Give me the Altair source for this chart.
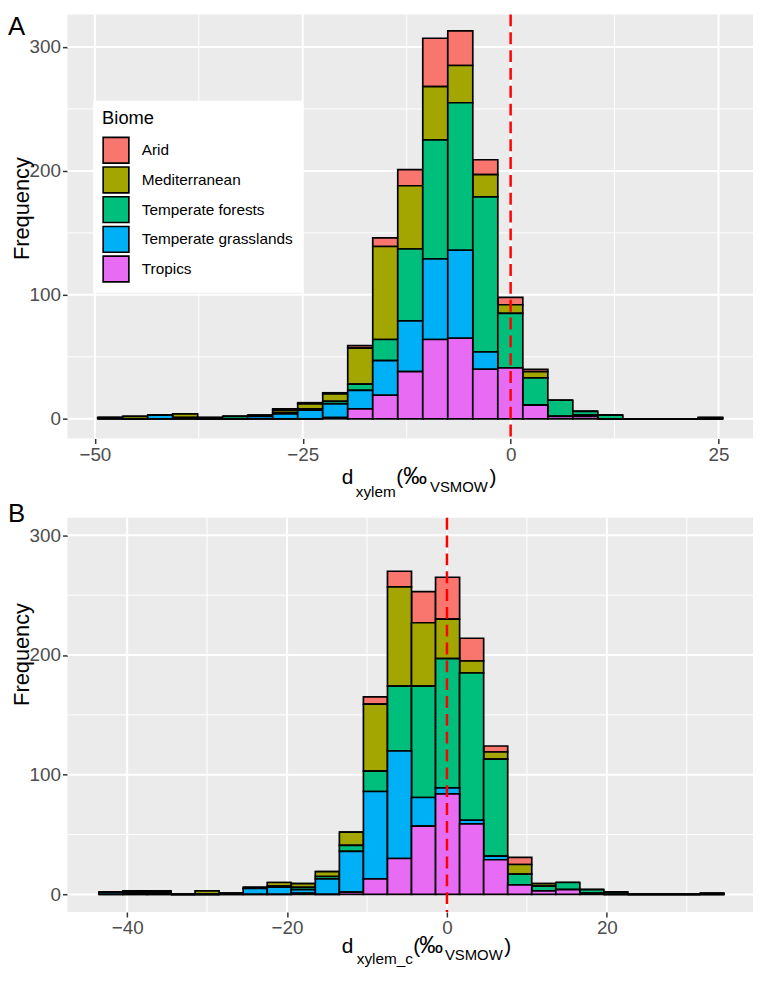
import altair as alt
import pandas as pd

biomes = ["Arid", "Mediterranean", "Temperate forests", "Temperate grasslands", "Tropics"]
colors = ["#F8766D", "#A3A500", "#00BF7D", "#00B0F6", "#E76BF3"]

# Panel A: d_xylem histogram (25 bins)
a_start = -49.73
a_width = 3.008
a_arid = [0, 0, 0, 0, 0, 0, 0, 1, 1, 1, 2, 7, 13, 39, 28, 12, 6, 2, 0, 0, 0, 0, 0, 0, 0]
a_med = [0, 2, 0, 3, 0, 0, 1, 2, 4, 6, 29, 75, 51, 43, 30, 18, 7, 5, 0, 0, 0, 0, 0, 0, 0]
a_tf = [0, 0, 0, 0, 1, 2, 0, 1, 1, 2, 5, 17, 58, 96, 119, 125, 44, 22, 13, 3, 3, 0, 0, 0, 1]
a_tg = [1, 0, 3, 1, 0, 0, 2, 4, 7, 11, 15, 28, 41, 65, 71, 14, 0, 0, 0, 1, 0, 0, 0, 0, 0]
a_tr = [0, 0, 0, 0, 0, 0, 0, 0, 0, 1, 8, 19, 38, 64, 65, 40, 41, 11, 2, 2, 0, 0, 0, 0, 0]

# Panel B: d_xylem_c histogram (26 bins)
b_start = -43.6
b_width = 3.008
b_arid = [0, 0, 0, 0, 0, 0, 0, 0, 0, 0, 0, 6, 13, 26, 35, 19, 5, 6, 0, 0, 0, 0, 0, 0, 0, 0]
b_med = [0, 1, 1, 0, 3, 0, 1, 3, 3, 4, 11, 56, 83, 53, 33, 10, 6, 8, 2, 0, 0, 0, 0, 0, 0, 0]
b_tf = [0, 1, 1, 0, 0, 0, 0, 1, 2, 2, 5, 17, 54, 93, 108, 123, 81, 9, 4, 6, 3, 2, 0, 0, 0, 1]
b_tg = [2, 1, 1, 0, 0, 1, 5, 6, 3, 13, 34, 73, 90, 24, 5, 3, 3, 0, 0, 0, 0, 0, 0, 0, 0, 0]
b_tr = [0, 0, 0, 0, 0, 0, 0, 0, 1, 0, 2, 13, 30, 57, 84, 59, 29, 8, 3, 4, 1, 0, 0, 0, 0, 0]

a_xmajor = [-50, -25, 0, 25]
a_xminor = [-37.5, -12.5, 12.5]
b_xmajor = [-40, -20, 0, 20]
b_xminor = [-30, -10, 10, 30]
y_major = [0, 100, 200, 300]
y_minor = [50, 150, 250]
vline_at = [0]

FONT = "Liberation Sans"


def long_df(start, width, series):
    rows = []
    for b, vals in zip(biomes, series):
        for i, v in enumerate(vals):
            rows.append(dict(start=start + i * width, end=start + (i + 1) * width,
                             count=v, biome=b, ord=len(biomes) - 1 - biomes.index(b)))
    return pd.DataFrame(rows)


def txt(s, x, y, size, baseline="alphabetic", align="left", angle=None):
    kw = dict(fontSize=size, baseline=baseline, align=align, color="black", font=FONT)
    if angle is not None:
        kw["angle"] = angle
    return alt.Chart(pd.DataFrame({"t": [s]})).mark_text(**kw).encode(
        text="t:N", x=alt.value(x), y=alt.value(y))


def panel(df, xdom, ydom, xmaj, xmin, h, legend, texts):
    xax = alt.Axis(values=xmaj, grid=False, domain=False, tickColor="#333333", tickSize=5,
                   tickWidth=1.5, labelColor="#4D4D4D", labelFontSize=19, labelFont=FONT,
                   labelPadding=2, title=None, labelFlush=False, format="d")
    yax = alt.Axis(values=y_major, grid=False, domain=False, tickColor="#333333", tickSize=5,
                   tickWidth=1.5, labelColor="#4D4D4D", labelFontSize=19, labelFont=FONT,
                   labelPadding=2, title=None, format="d")
    xsc = alt.Scale(domain=xdom, nice=False, zero=False)
    ysc = alt.Scale(domain=ydom, nice=False, zero=False)

    gx_min = alt.Chart(pd.DataFrame({"v": xmin})).mark_rule(color="white", strokeWidth=1).encode(
        x=alt.X("v:Q", scale=xsc, axis=xax))
    gx_maj = alt.Chart(pd.DataFrame({"v": xmaj})).mark_rule(color="white", strokeWidth=2).encode(
        x=alt.X("v:Q", scale=xsc, axis=xax))
    gy_min = alt.Chart(pd.DataFrame({"v": y_minor})).mark_rule(color="white", strokeWidth=1).encode(
        y=alt.Y("v:Q", scale=ysc, axis=yax))
    gy_maj = alt.Chart(pd.DataFrame({"v": y_major})).mark_rule(color="white", strokeWidth=2).encode(
        y=alt.Y("v:Q", scale=ysc, axis=yax))

    bars = alt.Chart(df).mark_bar(stroke="black", strokeWidth=1.7, binSpacing=0, opacity=1).encode(
        x=alt.X("start:Q", bin="binned", scale=xsc, axis=xax),
        x2="end:Q",
        y=alt.Y("count:Q", stack="zero", scale=ysc, axis=yax),
        color=alt.Color("biome:N", scale=alt.Scale(domain=biomes, range=colors), legend=legend),
        order=alt.Order("ord:Q", sort="ascending"),
    )
    vline = alt.Chart(pd.DataFrame({"v": vline_at})).mark_rule(
        color="#FF0000", strokeWidth=2.5, strokeDash=[12, 6]).encode(
        x=alt.X("v:Q", scale=xsc, axis=xax))
    return alt.layer(gx_min, gx_maj, gy_min, gy_maj, bars, vline, *texts).properties(
        width=692, height=h)


legend_a = alt.Legend(title="Biome", orient="none", legendX=26, legendY=87, fillColor="white",
                      padding=9, symbolType="square", symbolSize=676, symbolStrokeColor="black",
                      symbolStrokeWidth=1.7, symbolOpacity=1, labelFontSize=15.5, labelColor="black",
                      labelFont=FONT, titleFont=FONT, titleFontSize=18.5, titleFontWeight="normal",
                      titleColor="black", titlePadding=8, rowPadding=1, clipHeight=29,
                      labelOffset=12)

texts_a = [
    txt("A", -60, 0, 26, baseline="top"),
    txt("Frequency", -46, 196, 22, baseline="middle", align="center", angle=270),
    txt("d", 277, 474, 21),
    txt("xylem", 291, 487, 15.5),
    txt("(", 332, 474, 21),
    txt("‰", 339, 474, 24),
    txt("VSMOW", 366, 482, 15),
    txt(")", 426, 474, 21),
]
texts_b = [
    txt("B", -60, -17, 26, baseline="top"),
    txt("Frequency", -46, 138, 22, baseline="middle", align="center", angle=270),
    txt("d", 277, 439, 21),
    txt("xylem_c", 292, 450, 15.5),
    txt("(", 349, 439, 21),
    txt("‰", 355, 439, 24),
    txt("VSMOW", 381, 446, 15),
    txt(")", 441, 439, 21),
]

pa = panel(long_df(a_start, a_width, [a_arid, a_med, a_tf, a_tg, a_tr]),
           [-53.3, 29.15], [-15.87, 326.2], a_xmajor, a_xminor, 428, legend_a, texts_a)
pb = panel(long_df(b_start, b_width, [b_arid, b_med, b_tf, b_tg, b_tr]),
           [-47.47, 38.28], [-14.7, 314.7], b_xmajor, b_xminor, 398, None, texts_b)

chart = alt.vconcat(pa, pb, spacing=0).resolve_scale(color="independent").resolve_legend(
    color="independent").properties(padding=0).configure(font=FONT).configure_view(
    fill="#EBEBEB", stroke=None)

chart.save("out.html", embed_options={"renderer": "svg", "actions": False})
